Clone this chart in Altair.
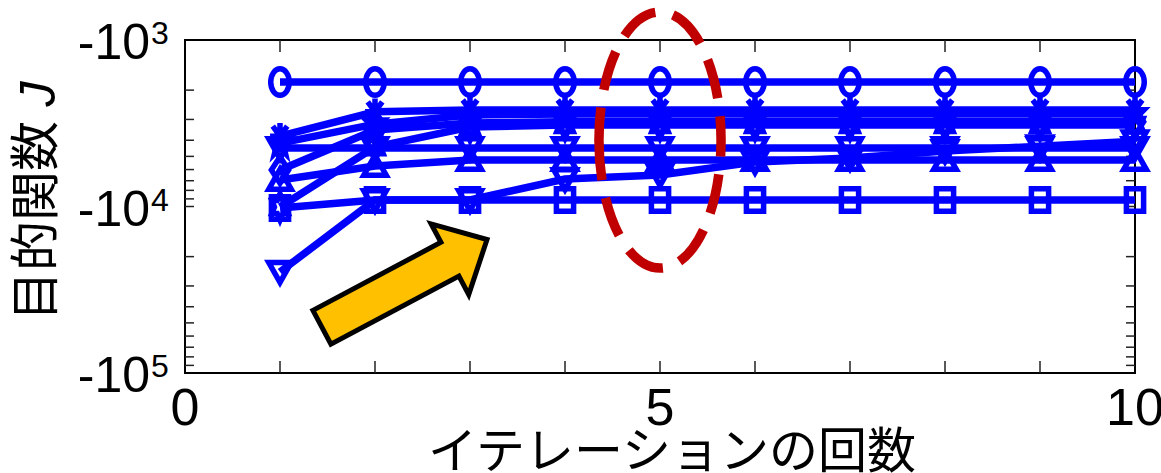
import altair as alt
import pandas as pd

# Iteration index and objective value J (negative) for each run
iterations = [1, 2, 3, 4, 5, 6, 7, 8, 9, 10]

series_names = ["circle", "square", "tri_down_open", "tri_up", "tri_down",
                "asterisk", "hexagram", "diamond", "pentagram"]

J_circle = [-1790, -1790, -1790, -1790, -1790, -1790, -1790, -1790, -1790, -1790]
J_square = [-10200, -9140, -9140, -9140, -9140, -9140, -9140, -9140, -9140, -9140]
J_tri_down_open = [-24700, -9140, -9140, -6840, -6470, -5410, -5120, -4650, -4340, -4050]
J_tri_up = [-6930, -5710, -5260, -5260, -5260, -5260, -5260, -5260, -5260, -5260]
J_tri_down = [-4460, -4460, -4460, -4460, -4460, -4460, -4460, -4460, -4460, -4460]
J_asterisk = [-3780, -2700, -2630, -2630, -2630, -2630, -2630, -2630, -2630, -2630]
J_hexagram = [-10070, -4400, -3330, -3240, -3240, -3240, -3240, -3240, -3240, -3240]
J_diamond = [-6040, -3470, -3150, -3100, -3100, -3100, -3100, -3100, -3100, -3100]
J_pentagram = [-4160, -3200, -2820, -2780, -2780, -2780, -2780, -2780, -2780, -2780]

all_series = [J_circle, J_square, J_tri_down_open, J_tri_up, J_tri_down,
              J_asterisk, J_hexagram, J_diamond, J_pentagram]

# Axis tick positions and labels
x_tick_vals = [1, 2, 3, 4, 5, 6, 7, 8, 9]
x_label_vals = [0, 5, 10]
x_label_text = ["0", "5", "10"]
y_tick_vals = [2000, 3000, 4000, 5000, 6000, 7000, 8000, 9000, 10000,
               20000, 30000, 40000, 50000, 60000, 70000, 80000, 90000]
y_label_vals = [1000, 10000, 100000]
y_label_base = ["-10", "-10", "-10"]
y_label_exp = ["3", "4", "5"]

x_title = "イテレーションの回数"
y_title = "目的関数"
y_title_sym = "J"

# Annotations: highlighted iteration and trend arrow
focus_iter = [5.0]
focus_J = [-3990]
arrow_iter = [2.31]
arrow_J = [-28970]

rows = []
for name, vals in zip(series_names, all_series):
    for it, j in zip(iterations, vals):
        rows.append({"series": name, "iter": it, "J": j})
df = pd.DataFrame(rows)
df["mag"] = -df["J"]

W, H = 950, 333
BLUE = "#0000FF"
NUM_FONT = "Liberation Sans, Arial, sans-serif"
CJK_FONT = "Noto Sans CJK JP"

# Marker outlines (slightly taller than wide)
marker_paths = [
    "M -0.7 0 A 0.7 1 0 1 0 0.7 0 A 0.7 1 0 1 0 -0.7 0 Z",
    "M -0.65 -0.85 L 0.65 -0.85 L 0.65 0.85 L -0.65 0.85 Z",
    "M 0 0.8 L 0.85 -0.7 L -0.85 -0.7 Z",
    "M 0 -0.8 L 0.85 0.7 L -0.85 0.7 Z",
    "M 0 0.8 L 0.85 -0.7 L -0.85 -0.7 Z",
    "M 0 -1 L 0 1 M -0.75 0 L 0.75 0 M -0.55 -0.75 L 0.55 0.75 M -0.55 0.75 L 0.55 -0.75",
    "M 0 -1 L 0.21 -0.5 L 0.62 -0.5 L 0.42 0 L 0.62 0.5 L 0.21 0.5 L 0 1 L -0.21 0.5 L -0.62 0.5 L -0.42 0 L -0.62 -0.5 L -0.21 -0.5 Z",
    "M 0 -1 L 0.65 0 L 0 1 L -0.65 0 Z",
    "M 0 -1 L 0.162 -0.309 L 0.685 -0.309 L 0.261 0.118 L 0.423 0.809 L 0 0.382 L -0.423 0.809 L -0.261 0.118 L -0.685 -0.309 L -0.162 -0.309 Z",
]

ellipse_path = "M -0.477 0 A 0.477 1 0 1 0 0.477 0 A 0.477 1 0 1 0 -0.477 0 Z"
arrow_path = "M -1 -0.205 L 0.551 -0.205 L 0.551 -0.428 L 1 0 L 0.551 0.428 L 0.551 0.205 L -1 0.205 Z"

x_scale = alt.Scale(domain=[0, 10], nice=False, zero=False)
y_scale = alt.Scale(type="log", domain=[1000, 100000], reverse=True, nice=False)
X = alt.X("iter:Q", scale=x_scale, axis=None)
Y = alt.Y("mag:Q", scale=y_scale, axis=None)

tick_color = "#222222"
xt = pd.DataFrame({"iter": x_tick_vals})
yt = pd.DataFrame({"mag": y_tick_vals})

bottom_ticks = alt.Chart(xt).mark_rule(color=tick_color, strokeWidth=1.5).encode(
    x=X, y=alt.value(H), y2=alt.value(H - 12))
top_ticks = alt.Chart(xt).mark_rule(color=tick_color, strokeWidth=1.5).encode(
    x=X, y=alt.value(0), y2=alt.value(12))
left_ticks = alt.Chart(yt).mark_rule(color=tick_color, strokeWidth=1.5).encode(
    y=Y, x=alt.value(0), x2=alt.value(9))
right_ticks = alt.Chart(yt).mark_rule(color=tick_color, strokeWidth=1.5).encode(
    y=Y, x=alt.value(W), x2=alt.value(W - 9))

lines = alt.Chart(df).mark_line(color=BLUE, strokeWidth=7.5).encode(
    x=X, y=Y, detail="series:N", order="iter:Q")
points = alt.Chart(df).mark_point(
    filled=False, color=BLUE, strokeWidth=5.5, opacity=1, size=700
).encode(
    x=X, y=Y,
    shape=alt.Shape("series:N", scale=alt.Scale(domain=series_names, range=marker_paths),
                    legend=None),
)

focus_df = pd.DataFrame({"iter": focus_iter, "mag": [-v for v in focus_J]})
ellipse = alt.Chart(focus_df).mark_point(
    shape=ellipse_path, filled=False, stroke="#C00000", strokeWidth=9.5,
    strokeDash=[40, 18], opacity=1, size=65536
).encode(x=X, y=Y)

arrow_df = pd.DataFrame({"iter": arrow_iter, "mag": [-v for v in arrow_J]})
arrow = alt.Chart(arrow_df).mark_point(
    shape=arrow_path, filled=True, fill="#FFC000", stroke="black", strokeWidth=5,
    angle=332, opacity=1, size=34969
).encode(x=X, y=Y)

ylab = pd.DataFrame({"mag": y_label_vals, "base": y_label_base, "exp": y_label_exp})
y_base_text = alt.Chart(ylab).mark_text(
    align="right", baseline="alphabetic", dy=19, fontSize=50, font=NUM_FONT, color="black"
).encode(y=Y, x=alt.value(-35), text="base:N")
y_exp_text = alt.Chart(ylab).mark_text(
    align="left", baseline="alphabetic", dy=4, fontSize=32, font=NUM_FONT, color="black"
).encode(y=Y, x=alt.value(-34), text="exp:N")

xlab = pd.DataFrame({"iter": x_label_vals, "lab": x_label_text})
x_text = alt.Chart(xlab).mark_text(
    align="center", baseline="alphabetic", fontSize=52, font=NUM_FONT, color="black"
).encode(x=X, y=alt.value(H + 52), text="lab:N")

y_title_text = alt.Chart(pd.DataFrame({"t": [y_title]})).mark_text(
    angle=270, align="center", baseline="middle", fontSize=50, font=CJK_FONT, color="black"
).encode(x=alt.value(-147), y=alt.value(181), text="t:N")
y_title_sym_text = alt.Chart(pd.DataFrame({"t": [y_title_sym]})).mark_text(
    angle=270, align="center", baseline="middle", fontSize=50, fontStyle="italic",
    font="Liberation Sans, Arial, sans-serif", color="black"
).encode(x=alt.value(-145), y=alt.value(54), text="t:N")
x_title_text = alt.Chart(pd.DataFrame({"t": [x_title]})).mark_text(
    align="center", baseline="alphabetic", fontSize=49, font=CJK_FONT, color="black"
).encode(x=alt.value(487), y=alt.value(H + 95), text="t:N")

chart = alt.layer(
    bottom_ticks, top_ticks, left_ticks, right_ticks,
    lines, points, ellipse, arrow,
    y_base_text, y_exp_text, x_text,
    y_title_text, y_title_sym_text, x_title_text,
).properties(
    width=W, height=H,
    autosize=alt.AutoSizeParams(type="none"),
    padding={"left": 185, "top": 40, "right": 26, "bottom": 100},
).configure_view(stroke="black", strokeWidth=2)

chart.save("out.html", embed_options={"renderer": "svg", "actions": False})
